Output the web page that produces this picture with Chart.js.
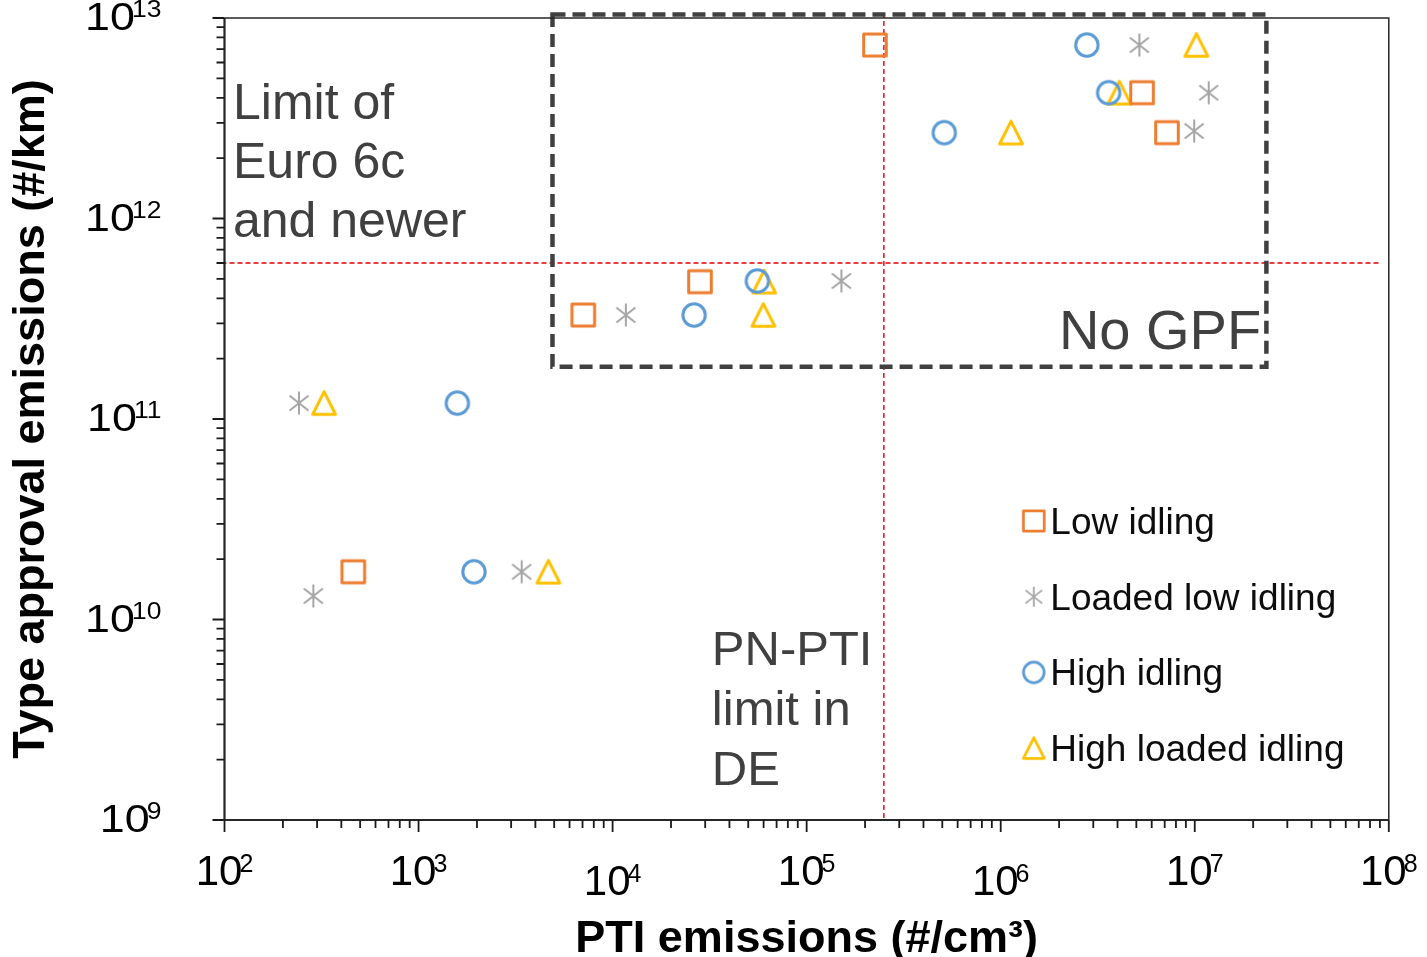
<!DOCTYPE html>
<html>
<head>
<meta charset="utf-8">
<script src="https://cdn.jsdelivr.net/npm/chart.js@4.4.1/dist/chart.umd.min.js"></script>
<style>
  html, body { margin: 0; padding: 0; background: #ffffff; }
  #c { display: block; }
</style>
</head>
<body>
<canvas id="c" width="1427" height="957"></canvas>
<script>
// ---- data -------------------------------------------------------------
// PTI emissions (#/cm3) against type approval emissions (#/km), per idling mode
const seriesLabels = ['Low idling', 'Loaded low idling', 'High idling', 'High loaded idling'];
const seriesColors = ['#ED7D31', '#A5A5A5', '#5B9BD5', '#FFC000'];

const lowIdlingPTI = [2.25e5, 5.35e6, 7.19e6, 2.82e4, 7.06e3, 461];
const lowIdlingTA  = [7.33e12, 4.24e12, 2.68e12, 4.84e11, 3.30e11, 1.73e10];

const loadedLowIdlingPTI = [5.18e6, 1.18e7, 9.93e6, 1.51e5, 1.17e4, 242, 287, 3.40e3];
const loadedLowIdlingTA  = [7.33e12, 4.24e12, 2.73e12, 4.88e11, 3.30e11, 1.20e11, 1.31e10, 1.73e10];

const highIdlingPTI = [2.78e6, 3.60e6, 5.12e5, 5.57e4, 2.63e4, 1585, 1930];
const highIdlingTA  = [7.33e12, 4.24e12, 2.68e12, 4.88e11, 3.30e11, 1.20e11, 1.73e10];

const highLoadedIdlingPTI = [1.02e7, 4.09e6, 1.13e6, 6.04e4, 5.98e4, 326, 4.67e3];
const highLoadedIdlingTA  = [7.33e12, 4.24e12, 2.68e12, 4.84e11, 3.30e11, 1.20e11, 1.73e10];

// axis decades (tick labels are 10^n)
const xDecades = [2, 3, 4, 5, 6, 7, 8];
const yDecades = [9, 10, 11, 12, 13];

// limits
const euro6cLimit = 6e11;   // #/km, Euro 6c and newer
const ptiLimitDE = 2.5e5;   // #/cm3, PN-PTI limit in Germany

// region of vehicles without gasoline particulate filter
const noGpfPTI = [4.9e3, 2.34e7];
const noGpfTA = [1.82e11, 1.04e13];

const xTitle = 'PTI emissions (#/cm\u00B3)';
const yTitle = 'Type approval emissions (#/km)';
const euroNote = ['Limit of', 'Euro 6c', 'and newer'];
const ptiNote = ['PN-PTI', 'limit in', 'DE'];
const gpfNote = 'No GPF';

// ---- drawing helpers --------------------------------------------------
const FONT = '"Liberation Sans", Arial, Helvetica, sans-serif';

function markerCanvas(kind, color, k) {
  const side = 34;
  const c = document.createElement('canvas');
  c.width = side; c.height = side;
  const g = c.getContext('2d');
  g.translate(side / 2, side / 2);
  g.scale(k, k);
  g.strokeStyle = color;
  g.lineWidth = 3;
  g.lineJoin = 'round';
  g.beginPath();
  if (kind === 'square') {
    g.rect(-11.3, -11, 22.6, 22);
  } else if (kind === 'circle') {
    g.arc(0, 0, 11.2, 0, Math.PI * 2);
  } else if (kind === 'triangle') {
    g.moveTo(0, -11.4);
    g.lineTo(11.4, 11.2);
    g.lineTo(-11.4, 11.2);
    g.closePath();
  } else {
    g.lineWidth = 2;
    g.lineCap = 'butt';
    g.moveTo(0, -11.5); g.lineTo(0, 11.5);
    g.moveTo(-9.5, -7.5); g.lineTo(9.5, 7.5);
    g.moveTo(-9.5, 7.5); g.lineTo(9.5, -7.5);
  }
  g.stroke();
  return c;
}

const markerKinds = ['square', 'asterisk', 'circle', 'triangle'];

function toPoints(xs, ys) {
  return xs.map((v, i) => ({ x: v, y: ys[i] }));
}

const seriesPTI = [lowIdlingPTI, loadedLowIdlingPTI, highIdlingPTI, highLoadedIdlingPTI];
const seriesTA = [lowIdlingTA, loadedLowIdlingTA, highIdlingTA, highLoadedIdlingTA];

const datasets = seriesLabels.map((label, i) => ({
  label,
  data: toPoints(seriesPTI[i], seriesTA[i]),
  pointStyle: markerCanvas(markerKinds[i], seriesColors[i], 1),
  legendMarker: markerCanvas(markerKinds[i], seriesColors[i], markerKinds[i] === 'asterisk' ? 0.88 : 0.92),
  pointRadius: 13,
  borderColor: seriesColors[i],
  backgroundColor: 'transparent',
  showLine: false
}));

function drawPower(ctx, exp, x, baseline, o) {
  ctx.font = o.size + 'px ' + FONT;
  const wb = ctx.measureText('10').width;
  ctx.font = o.supSize + 'px ' + FONT;
  const ws = ctx.measureText(String(exp)).width;
  const supX = wb - o.tuck;
  const total = (supX + ws) * o.sx;
  const left = o.align === 'center' ? x - total / 2 : x - total;
  ctx.save();
  ctx.translate(left, baseline);
  ctx.scale(o.sx, 1);
  ctx.fillStyle = '#000000';
  ctx.textAlign = 'left';
  ctx.textBaseline = 'alphabetic';
  ctx.font = o.size + 'px ' + FONT;
  ctx.fillText('10', 0, 0);
  ctx.font = o.supSize + 'px ' + FONT;
  ctx.fillText(String(exp), supX, -o.rise);
  ctx.restore();
}

// reference lines and the "No GPF" region, under the markers
const guidePlugin = {
  id: 'guides',
  beforeDatasetsDraw(chart) {
    const { ctx, chartArea: a, scales: { x, y } } = chart;
    ctx.save();
    ctx.strokeStyle = '#E00000';
    ctx.lineWidth = 1.4;
    ctx.setLineDash([5, 3]);
    const ly = y.getPixelForValue(euro6cLimit);
    ctx.beginPath();
    ctx.moveTo(a.left - 3, ly);
    ctx.lineTo(x.getPixelForValue(9e7), ly);
    ctx.stroke();
    const lx = x.getPixelForValue(ptiLimitDE);
    ctx.beginPath();
    ctx.moveTo(lx, a.bottom - 2);
    ctx.lineTo(lx, y.getPixelForValue(1.06e13));
    ctx.stroke();

    ctx.strokeStyle = '#404040';
    ctx.lineWidth = 4.5;
    ctx.setLineDash([13, 7]);
    const bx1 = x.getPixelForValue(noGpfPTI[0]);
    const bx2 = x.getPixelForValue(noGpfPTI[1]);
    const by1 = y.getPixelForValue(noGpfTA[1]);
    const by2 = y.getPixelForValue(noGpfTA[0]);
    ctx.strokeRect(bx1, by1, bx2 - bx1, by2 - by1);
    ctx.restore();
  }
};

// frame, tick marks, tick labels, titles, notes and legend
const axisPlugin = {
  id: 'axisDecor',
  afterDatasetsDraw(chart) {
    const { ctx, chartArea: a, scales: { x, y } } = chart;
    ctx.save();

    // frame
    ctx.strokeStyle = '#262626';
    ctx.lineWidth = 1.5;
    ctx.beginPath();
    ctx.moveTo(a.left, a.top); ctx.lineTo(a.right, a.top); ctx.lineTo(a.right, a.bottom);
    ctx.stroke();
    ctx.lineWidth = 2.2;
    ctx.beginPath();
    ctx.moveTo(a.left, a.top); ctx.lineTo(a.left, a.bottom); ctx.lineTo(a.right, a.bottom);
    ctx.stroke();

    // tick marks (major at powers of ten, minor at 2..9)
    ctx.lineWidth = 1.8;
    ctx.strokeStyle = '#1a1a1a';
    ctx.beginPath();
    for (let e = xDecades[0]; e <= xDecades[xDecades.length - 1]; e++) {
      for (let m = 1; m <= 9; m++) {
        if (e === xDecades[xDecades.length - 1] && m > 1) break;
        const px = x.getPixelForValue(m * Math.pow(10, e));
        ctx.moveTo(px, a.bottom);
        ctx.lineTo(px, a.bottom + (m === 1 ? 12 : 8));
      }
    }
    for (let e = yDecades[0]; e <= yDecades[yDecades.length - 1]; e++) {
      for (let m = 1; m <= 9; m++) {
        if (e === yDecades[yDecades.length - 1] && m > 1) break;
        const py = y.getPixelForValue(m * Math.pow(10, e));
        ctx.moveTo(a.left, py);
        ctx.lineTo(a.left - (m === 1 ? 12 : 8), py);
      }
    }
    ctx.stroke();

    // tick labels
    xDecades.forEach((e) => {
      const px = x.getPixelForValue(Math.pow(10, e));
      const drop = (e === 4 || e === 6) ? 10 : 0;
      drawPower(ctx, e, px, a.bottom + 65 + drop,
        { size: 42, supSize: 25, rise: 13, sx: 1, tuck: 3, align: 'center' });
    });
    yDecades.forEach((e) => {
      const py = y.getPixelForValue(Math.pow(10, e));
      drawPower(ctx, e, a.left - 63, py + 12,
        { size: 39, supSize: 23, rise: 13, sx: 1.15, tuck: 2.5, align: 'right' });
    });

    // axis titles
    ctx.fillStyle = '#000000';
    ctx.font = 'bold 45px ' + FONT;
    ctx.textAlign = 'center';
    ctx.textBaseline = 'alphabetic';
    ctx.fillText(xTitle, (a.left + a.right) / 2, a.bottom + 132);
    ctx.save();
    ctx.translate(44, (a.top + a.bottom) / 2);
    ctx.rotate(-Math.PI / 2);
    ctx.fillText(yTitle, 0, 0);
    ctx.restore();

    // notes
    ctx.fillStyle = '#404040';
    ctx.textAlign = 'left';
    ctx.font = '50px ' + FONT;
    euroNote.forEach((t, i) => ctx.fillText(t, a.left + 8.5, a.top + 101 + i * 59));
    ctx.font = '49px ' + FONT;
    ptiNote.forEach((t, i) => ctx.fillText(t, x.getPixelForValue(ptiLimitDE) - 172, a.top + 647 + i * 60));
    ctx.font = '56px ' + FONT;
    ctx.fillText(gpfNote, x.getPixelForValue(noGpfPTI[1]) - 207.5, y.getPixelForValue(noGpfTA[0]) - 18);

    // legend
    ctx.font = '37px ' + FONT;
    ctx.fillStyle = '#0d0d0d';
    const lx = a.right - 355;
    chart.data.datasets.forEach((ds, i) => {
      const ry = a.top + 503 + i * 75.7;
      const img = ds.legendMarker;
      ctx.drawImage(img, lx - img.width / 2, ry - img.height / 2);
      ctx.fillText(ds.label, lx + 16.5, ry + 13);
    });

    ctx.restore();
  }
};

new Chart(document.getElementById('c'), {
  type: 'scatter',
  data: { datasets },
  options: {
    responsive: false,
    animation: false,
    events: [],
    devicePixelRatio: 1,
    layout: { padding: { left: 224.5, right: 38.2, top: 18, bottom: 137 } },
    scales: {
      x: { type: 'logarithmic', min: 1e2, max: 1e8, display: false },
      y: { type: 'logarithmic', min: 1e9, max: 1e13, display: false }
    },
    plugins: {
      legend: { display: false },
      tooltip: { enabled: false },
      title: { display: false }
    }
  },
  plugins: [guidePlugin, axisPlugin]
});
</script>
</body>
</html>
